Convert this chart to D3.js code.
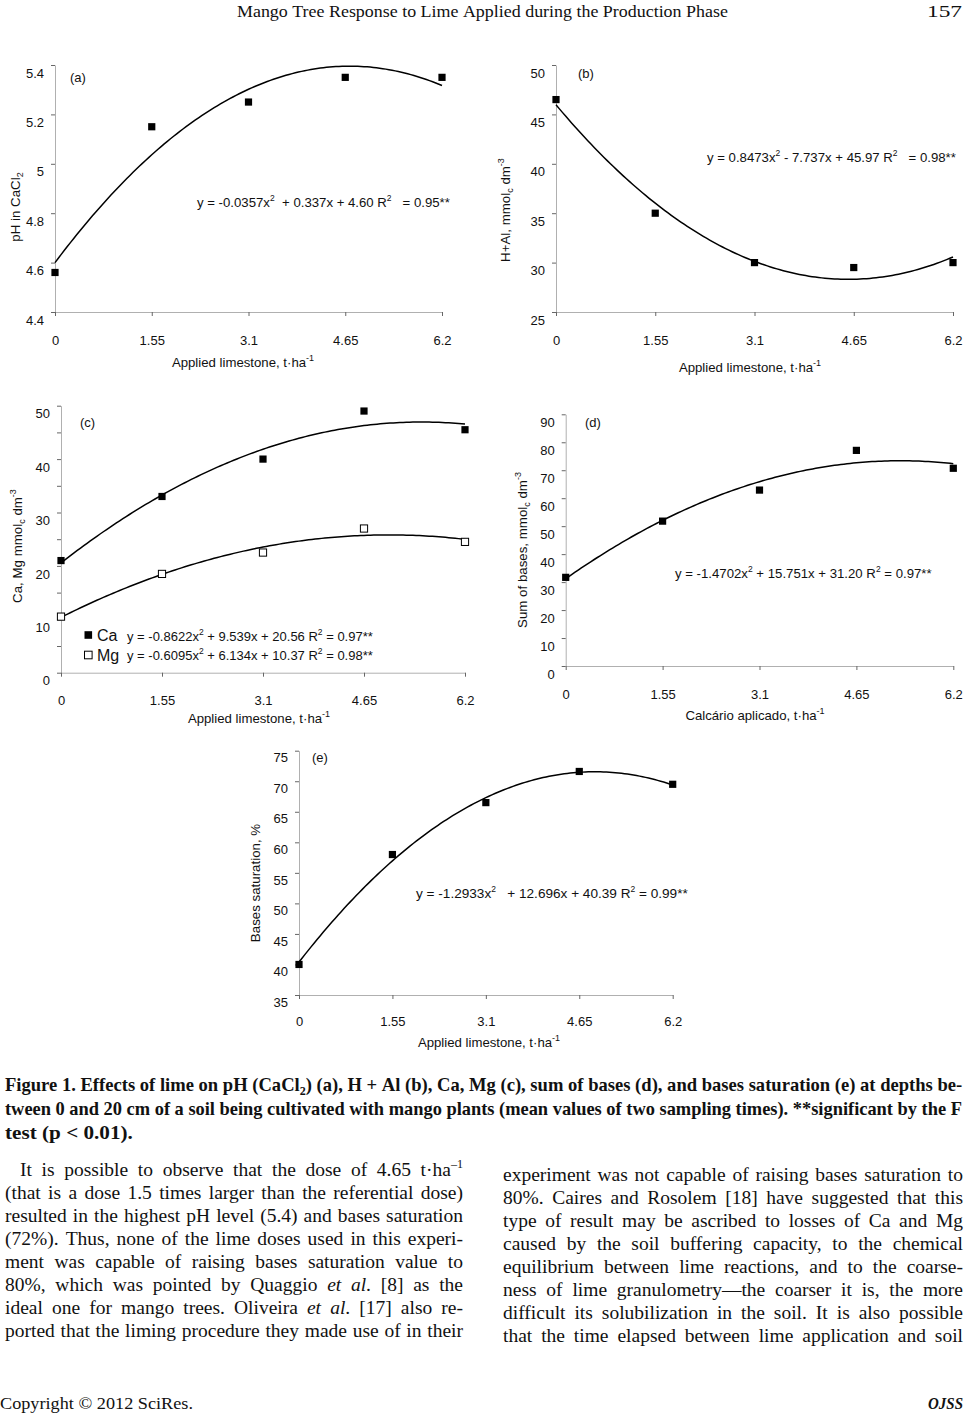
<!DOCTYPE html>
<html><head><meta charset="utf-8">
<script src="https://cdn.jsdelivr.net/npm/d3@7"></script>
<style>
html,body{margin:0;padding:0;background:#fff;}
svg{display:block;}
text{white-space:pre;}
</style></head><body>
<svg id="page" width="965" height="1414"></svg>
<script>
// ---------------- DATA ----------------
const doses = [0, 1.55, 3.1, 4.65, 6.2];
const doseLabels = ["0", "1.55", "3.1", "4.65", "6.2"];

const phCaCl2   = [4.56, 5.15, 5.25, 5.35, 5.35];
const hAl       = [46.5, 35.0, 30.0, 29.5, 30.0];
const calcium   = [21.0, 33.0, 40.0, 49.0, 45.5];
const magnesium = [10.5, 18.5, 22.5, 27.0, 24.5];
const sumBases  = [31.7, 51.8, 62.9, 77.1, 70.7];
const baseSat   = [40.0, 58.0, 66.5, 71.6, 69.5];

// quadratic trend coefficients [a, b, c] as printed in each equation
const phFit  = [-0.0357, 0.337, 4.60];
const hAlFit = [0.8473, -7.737, 45.97];
const caFit  = [-0.8622, 9.539, 20.56];
const mgFit  = [-0.6095, 6.134, 10.37];
const sbFit  = [-1.4702, 15.751, 31.20];
const vFit   = [-1.2933, 12.696, 40.39];

// axis ticks
const phTicks      = [4.4, 4.6, 4.8, 5, 5.2, 5.4];
const hAlTicks     = [25, 30, 35, 40, 45, 50];
const caMgTicks    = [0, 5, 10, 15, 20, 25, 30, 35, 40, 45, 50];
const caMgLabels   = [0, 10, 20, 30, 40, 50];
const sbTicks      = [0, 10, 20, 30, 40, 50, 60, 70, 80, 90];
const vTicks       = [35, 40, 45, 50, 55, 60, 65, 70, 75];

// ---------------- DRAWING ----------------
const svg = d3.select("#page");
const SANS = "'Liberation Sans', Arial, 'DejaVu Sans', sans-serif";
const SERIF = "'Liberation Serif', 'Times New Roman', serif";
const poly = (c, x) => c[0] * x * x + c[1] * x + c[2];
const trendX = d3.range(0, 6.2001, 0.05);

// rich text: parts = [[text, style]], style: "", "sup", "sub", "i"
function rich(textSel, parts, supSize, shift) {
  let off = 0;
  parts.forEach(([t, s]) => {
    const ts = textSel.append("tspan").text(t.replace(/ /g, "\u00a0"));
    let target = 0;
    if (s === "sup") { target = -shift; ts.attr("font-size", supSize); }
    else if (s === "sub") { target = shift * 0.6; ts.attr("font-size", supSize); }
    else if (s === "i") { ts.attr("font-style", "italic"); }
    if (target !== off) { ts.attr("dy", target - off); off = target; }
  });
  return textSel;
}

function panel(cfg) {
  const g = svg.append("g");
  const x = d3.scaleLinear().domain([0, 6.2]).range([cfg.x0, cfg.x1]);
  const y = d3.scaleLinear().domain(cfg.yDomain).range([cfg.yBot, cfg.yTop]);

  const ya = g.append("g").attr("transform", `translate(${cfg.x0},0)`)
    .call(d3.axisLeft(y).tickValues(cfg.yTicks).tickSize(4).tickSizeOuter(0)
      .tickFormat(v => (cfg.yLabels || cfg.yTicks).includes(v) ? String(v) : ""));
  ya.select(".domain").attr("stroke", "#b0b0b0");
  ya.selectAll(".tick line").attr("stroke", "#666");
  ya.selectAll(".tick text").attr("x", -11).attr("y", cfg.yLabelShift || 8)
    .attr("font-family", SANS).attr("font-size", 13).attr("fill", "#111");

  const xa = g.append("g").attr("transform", `translate(0,${cfg.yBot})`)
    .call(d3.axisBottom(x).tickValues(doses).tickSize(4).tickSizeOuter(0)
      .tickFormat((d, i) => doseLabels[i]));
  xa.select(".domain").attr("stroke", "#b0b0b0");
  xa.selectAll(".tick line").attr("stroke", "#666");
  xa.selectAll(".tick text").attr("y", cfg.xLabelGap || 23.5)
    .attr("font-family", SANS).attr("font-size", 13).attr("fill", "#111");

  cfg.series.forEach(s => {
    const line = d3.line().x(d => x(d)).y(d => y(poly(s.fit, d)));
    g.append("path").attr("d", line(trendX)).attr("fill", "none")
      .attr("stroke", "#000").attr("stroke-width", 1.5);
    g.append("g").selectAll("rect").data(doses.map((d, i) => [d, s.values[i]])).join("rect")
      .attr("x", d => x(d[0]) - 3.6).attr("y", d => y(d[1]) - 3.6)
      .attr("width", 7.2).attr("height", 7.2)
      .attr("fill", s.open ? "#fff" : "#000")
      .attr("stroke", "#000").attr("stroke-width", s.open ? 1 : 0);
  });

  g.append("text").attr("x", cfg.tag[0]).attr("y", cfg.tag[1]).attr("dy", "0.35em")
    .attr("font-family", SANS).attr("font-size", 13).attr("fill", "#111").text(cfg.tag[2]);

  cfg.eqs.forEach(e => {
    const t = g.append("text").attr("x", e.x).attr("y", e.y).attr("dy", "0.35em")
      .attr("font-family", SANS).attr("font-size", e.size || 13.2).attr("fill", "#111");
    rich(t, e.parts, 8.5, 5.5);
  });

  const yt = g.append("text")
    .attr("transform", `translate(${cfg.yTitle[0]},${cfg.yTitle[1]}) rotate(-90)`)
    .attr("text-anchor", "middle").attr("dy", "0.35em")
    .attr("font-family", SANS).attr("font-size", 13.3).attr("fill", "#111");
  rich(yt, cfg.yTitle[2], 9, 5.5);

  const xt = g.append("text").attr("x", cfg.xTitle[0]).attr("y", cfg.xTitle[1])
    .attr("text-anchor", "middle").attr("dy", "0.35em")
    .attr("font-family", SANS).attr("font-size", 13.2).attr("fill", "#111");
  rich(xt, cfg.xTitle[2], 9, 5.5);

  return { g, x, y };
}

const xTitleParts = [["Applied limestone, t·ha", ""], ["-1", "sup"]];

panel({
  x0: 55, x1: 442, yTop: 65, yBot: 312, yDomain: [4.4, 5.4], yTicks: phTicks,
  series: [{ values: phCaCl2, fit: phFit }],
  tag: [70, 77, "(a)"],
  eqs: [{ x: 197, y: 202, parts: [["y = -0.0357x", ""], ["2", "sup"], ["  + 0.337x + 4.60 R", ""], ["2", "sup"], ["   = 0.95**", ""]] }],
  yTitle: [15, 207, [["pH in CaCl", ""], ["2", "sub"]]],
  xTitle: [243, 362, xTitleParts]
});

panel({
  x0: 556, x1: 953, yTop: 65, yBot: 312, yDomain: [25, 50], yTicks: hAlTicks,
  series: [{ values: hAl, fit: hAlFit }],
  tag: [578, 73, "(b)"],
  eqs: [{ x: 707, y: 157, parts: [["y = 0.8473x", ""], ["2", "sup"], [" - 7.737x + 45.97 R", ""], ["2", "sup"], ["   = 0.98**", ""]] }],
  yTitle: [505, 210, [["H+Al, mmol", ""], ["c", "sub"], [" dm", ""], ["-3", "sup"]]],
  xTitle: [750, 367, xTitleParts]
});

const pc = panel({
  x0: 61, x1: 465, yTop: 405.7, yBot: 672.7, yDomain: [0, 50], yTicks: caMgTicks, yLabels: caMgLabels,
  series: [{ values: calcium, fit: caFit }, { values: magnesium, fit: mgFit, open: true }],
  tag: [80, 422, "(c)"],
  eqs: [
    { x: 127, y: 636, size: 13, parts: [["y = -0.8622x", ""], ["2", "sup"], [" + 9.539x + 20.56 R", ""], ["2", "sup"], [" = 0.97**", ""]] },
    { x: 127, y: 655, size: 13, parts: [["y = -0.6095x", ""], ["2", "sup"], [" + 6.134x + 10.37 R", ""], ["2", "sup"], [" = 0.98**", ""]] }
  ],
  yTitle: [17, 546, [["Ca, Mg mmol", ""], ["c", "sub"], [" dm", ""], ["-3", "sup"]]],
  xTitle: [259, 718, xTitleParts]
});
const legendItems = [["Ca", false, 635], ["Mg", true, 655]];
legendItems.forEach(([name, open, ly]) => {
  pc.g.append("rect").attr("x", 84.5).attr("y", ly - 3.8).attr("width", 7.6).attr("height", 7.6)
    .attr("fill", open ? "#fff" : "#000").attr("stroke", "#000").attr("stroke-width", open ? 1 : 0);
  pc.g.append("text").attr("x", 97).attr("y", ly).attr("dy", "0.35em")
    .attr("font-family", SANS).attr("font-size", 16).attr("fill", "#111").text(name);
});

panel({
  x0: 565.7, x1: 953.3, yTop: 414.3, yBot: 666, yDomain: [0, 90], yTicks: sbTicks,
  series: [{ values: sumBases, fit: sbFit }],
  tag: [585, 422, "(d)"],
  eqs: [{ x: 675, y: 573, parts: [["y = -1.4702x", ""], ["2", "sup"], [" + 15.751x + 31.20 R", ""], ["2", "sup"], [" = 0.97**", ""]] }],
  yTitle: [522, 550, [["Sum of bases, mmol", ""], ["c", "sub"], [" dm", ""], ["-3", "sup"]]],
  xTitle: [755, 715, [["Calcário aplicado, t·ha", ""], ["-1", "sup"]]]
});

panel({
  x0: 299, x1: 672.7, yTop: 750.7, yBot: 995, yDomain: [35, 75], yTicks: vTicks, yLabelShift: 7, xLabelGap: 22,
  series: [{ values: baseSat, fit: vFit }],
  tag: [312, 757, "(e)"],
  eqs: [{ x: 416, y: 893, size: 13.6, parts: [["y = -1.2933x", ""], ["2", "sup"], ["   + 12.696x + 40.39 R", ""], ["2", "sup"], [" = 0.99**", ""]] }],
  yTitle: [255, 883, [["Bases saturation, %", ""]]],
  xTitle: [489, 1042, xTitleParts]
});

// ---------------- PAGE TEXT ----------------
function fitLine(parts, x0, x1, base, size, weight, style) {
  const t = svg.append("text").attr("font-family", SERIF).attr("font-size", size)
    .attr("font-weight", weight || "normal").attr("font-style", style || "normal").attr("fill", "#111");
  rich(t, parts, size * 0.65, size * 0.35);
  const w = t.node().getComputedTextLength();
  const sx = (x1 - x0) / w;
  t.attr("transform", `translate(${x0},${base}) scale(${sx},1)`);
  return t;
}

fitLine([["Mango Tree Response to Lime Applied during the Production Phase", ""]], 237, 728, 17, 17);
fitLine([["157", ""]], 927, 962, 17, 17);

fitLine([["Figure 1. Effects of lime on pH (CaCl", ""], ["2", "sub"], [") (a), H + Al (b), Ca, Mg (c), sum of bases (d), and bases saturation (e) at depths be-", ""]], 5, 963, 1091, 18, "bold");
fitLine([["tween 0 and 20 cm of a soil being cultivated with mango plants (mean values of two sampling times). **significant by the F", ""]], 5, 963, 1115, 18, "bold");
fitLine([["test (p < 0.01).", ""]], 5, 133, 1139, 18, "bold");

fitLine([["Copyright © 2012 SciRes.", ""]], 0, 193, 1409, 17.5);
fitLine([["OJSS", ""]], 928, 963, 1409, 17.5, "bold", "italic");

function parseWord(w) {
  const segs = [];
  w.split(/(\*[^*]+\*|\^[^^]+\^)/).forEach(p => {
    if (!p) return;
    if (p[0] === "*") segs.push([p.slice(1, -1), "i"]);
    else if (p[0] === "^") segs.push([p.slice(1, -1), "sup"]);
    else segs.push([p, ""]);
  });
  return segs;
}
function justify(line, x0, x1, base, size) {
  const words = line.split(" ").map(parseWord);
  const nodes = words.map(segs => {
    const t = svg.append("text").attr("y", base).attr("font-family", SERIF)
      .attr("font-size", size).attr("fill", "#111");
    rich(t, segs, size * 0.62, size * 0.42);
    return t;
  });
  const widths = nodes.map(n => n.node().getComputedTextLength());
  const total = d3.sum(widths);
  const minGap = size * 0.18;
  let sx = 1, gap = words.length > 1 ? (x1 - x0 - total) / (words.length - 1) : 0;
  if (gap < minGap) { sx = (x1 - x0 - minGap * (words.length - 1)) / total; gap = minGap; }
  let cx = x0;
  nodes.forEach((n, i) => {
    n.attr("x", null).attr("transform", `translate(${cx},0) scale(${sx},1)`);
    cx += widths[i] * sx + gap;
  });
}

const leftCol = [
  "It is possible to observe that the dose of 4.65 t·ha^–1^",
  "(that is a dose 1.5 times larger than the referential dose)",
  "resulted in the highest pH level (5.4) and bases saturation",
  "(72%). Thus, none of the lime doses used in this experi-",
  "ment was capable of raising bases saturation value to",
  "80%, which was pointed by Quaggio *et* *al*. [8] as the",
  "ideal one for mango trees. Oliveira *et* *al*. [17] also re-",
  "ported that the liming procedure they made use of in their"
];
const rightCol = [
  "experiment was not capable of raising bases saturation to",
  "80%. Caires and Rosolem [18] have suggested that this",
  "type of result may be ascribed to losses of Ca and Mg",
  "caused by the soil buffering capacity, to the chemical",
  "equilibrium between lime reactions, and to the coarse-",
  "ness of lime granulometry—the coarser it is, the more",
  "difficult its solubilization in the soil. It is also possible",
  "that the time elapsed between lime application and soil"
];
leftCol.forEach((l, i) => justify(l, i === 0 ? 20 : 5, 463, 1176 + i * 23, 19.5));
rightCol.forEach((l, i) => justify(l, 503, 963, 1181 + i * 23, 19.5));
</script>
</body></html>
